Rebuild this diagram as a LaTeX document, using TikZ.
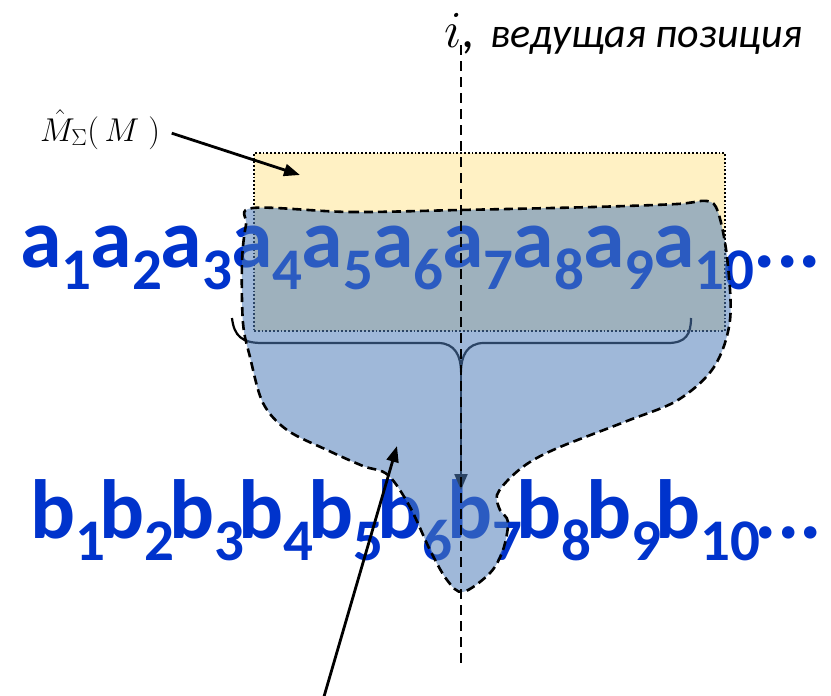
\RequirePackage{fix-cm}
\documentclass[tikz,border=0pt]{standalone}
\usepackage{fontspec}
\setmainfont{Carlito}
\usetikzlibrary{arrows.meta}
\definecolor{seqblue}{RGB}{0,51,204}
\definecolor{hatyellow}{RGB}{255,241,196}
\definecolor{zoneblue}{RGB}{80,125,185}
\newcommand{\sbs}[1]{\raisebox{-.27em}{\fontsize{59}{60}\selectfont #1}}
\newcommand{\apair}[1]{a\sbs{#1}\kern-1pt}
\newcommand{\bpair}[1]{b\sbs{#1}\kern-5.5pt}

\begin{document}
\begin{tikzpicture}[x=1pt,y=-1pt,
  seq/.style={font=\fontsize{84}{90}\selectfont\bfseries,text=seqblue,inner sep=0pt,anchor=base west},
  ptr/.style={line width=2.8pt,-{Triangle[length=16pt,width=12pt]}},
  guide/.style={line width=2.6pt,dash pattern=on 10pt off 6pt},
  zone/.style={fill=zoneblue,fill opacity=.55,draw=black,line width=2.6pt,dash pattern=on 9pt off 5pt}]
  \useasboundingbox (0,0) rectangle (831,696);
  % estimate window under the a-sequence
  \node[draw,line width=1.8pt,dotted,fill=hatyellow,minimum width=471pt,minimum height=178pt,anchor=north west,inner sep=0pt] (mhat) at (253,152) {};
  \node[anchor=base west,inner sep=0pt,font=\fontsize{33}{36}\selectfont] (mlabel) at (40,141) {$\hat{M}_{\Sigma}(\,M\;)$};
  \coordinate (ytip) at (300,175);
  % the two sequences
  \node[seq] (aline) at (20,267) {\apair1\apair2\apair3\apair4\apair5\apair6\apair7\apair8\apair9\apair{10}...};
  \node[seq] (bline) at (30,538) {\bpair1\bpair2\bpair3\bpair4\bpair5\bpair6\bpair7\bpair8\bpair9\bpair{10}...};
  % brace over the window
  \draw[line width=2.2pt] (232,318) .. controls (234,336) and (242,343) .. (262,343) -- (438,343)
    .. controls (455,343) and (461,356) .. (461,372) coordinate (bracetip)
    .. controls (461,356) and (467,343) .. (484,343) -- (668,343)
    .. controls (686,343) and (691,334) .. (691,318);
  \coordinate (btop) at (461,490);
  \draw[line width=2.2pt,-{Triangle[length=16pt,width=13pt]}] (bracetip) -- (btop);
  % dependence zone
  \path[zone] plot[smooth cycle,tension=.55] coordinates {(253,208) (350,212) (460,210) (593,207) (677,204) (707,201) (718,212) (727,257) (730,320) (714,367) (678,400) (627,421) (560,447) (530,462) (510,478) (497,495) (500,510) (508,522) (503,550) (490,573) (463,592) (447,580) (430,550) (410,507) (388,475) (363,466) (327,450) (287,430) (263,403) (250,357) (243,323) (242,262) (246,225)};
  % leading position
  \coordinate (ltop) at (461,45);
  \coordinate (lbot) at (461,668);
  \draw[guide] (ltop) -- (lbot);
  \node[anchor=base west,inner sep=0pt] (lead) at (444,47) {{\fontsize{52}{52}\selectfont$i$,}\hspace{16pt}\fontsize{42}{46}\selectfont\itshape ведущая позиция};
  \draw[ptr,shorten <=12pt] (mlabel.east) -- (ytip);
  \coordinate (ztail) at (323,700);
  \coordinate (zhead) at (397,446);
  \draw[ptr] (ztail) -- (zhead);
\end{tikzpicture}
\end{document}
